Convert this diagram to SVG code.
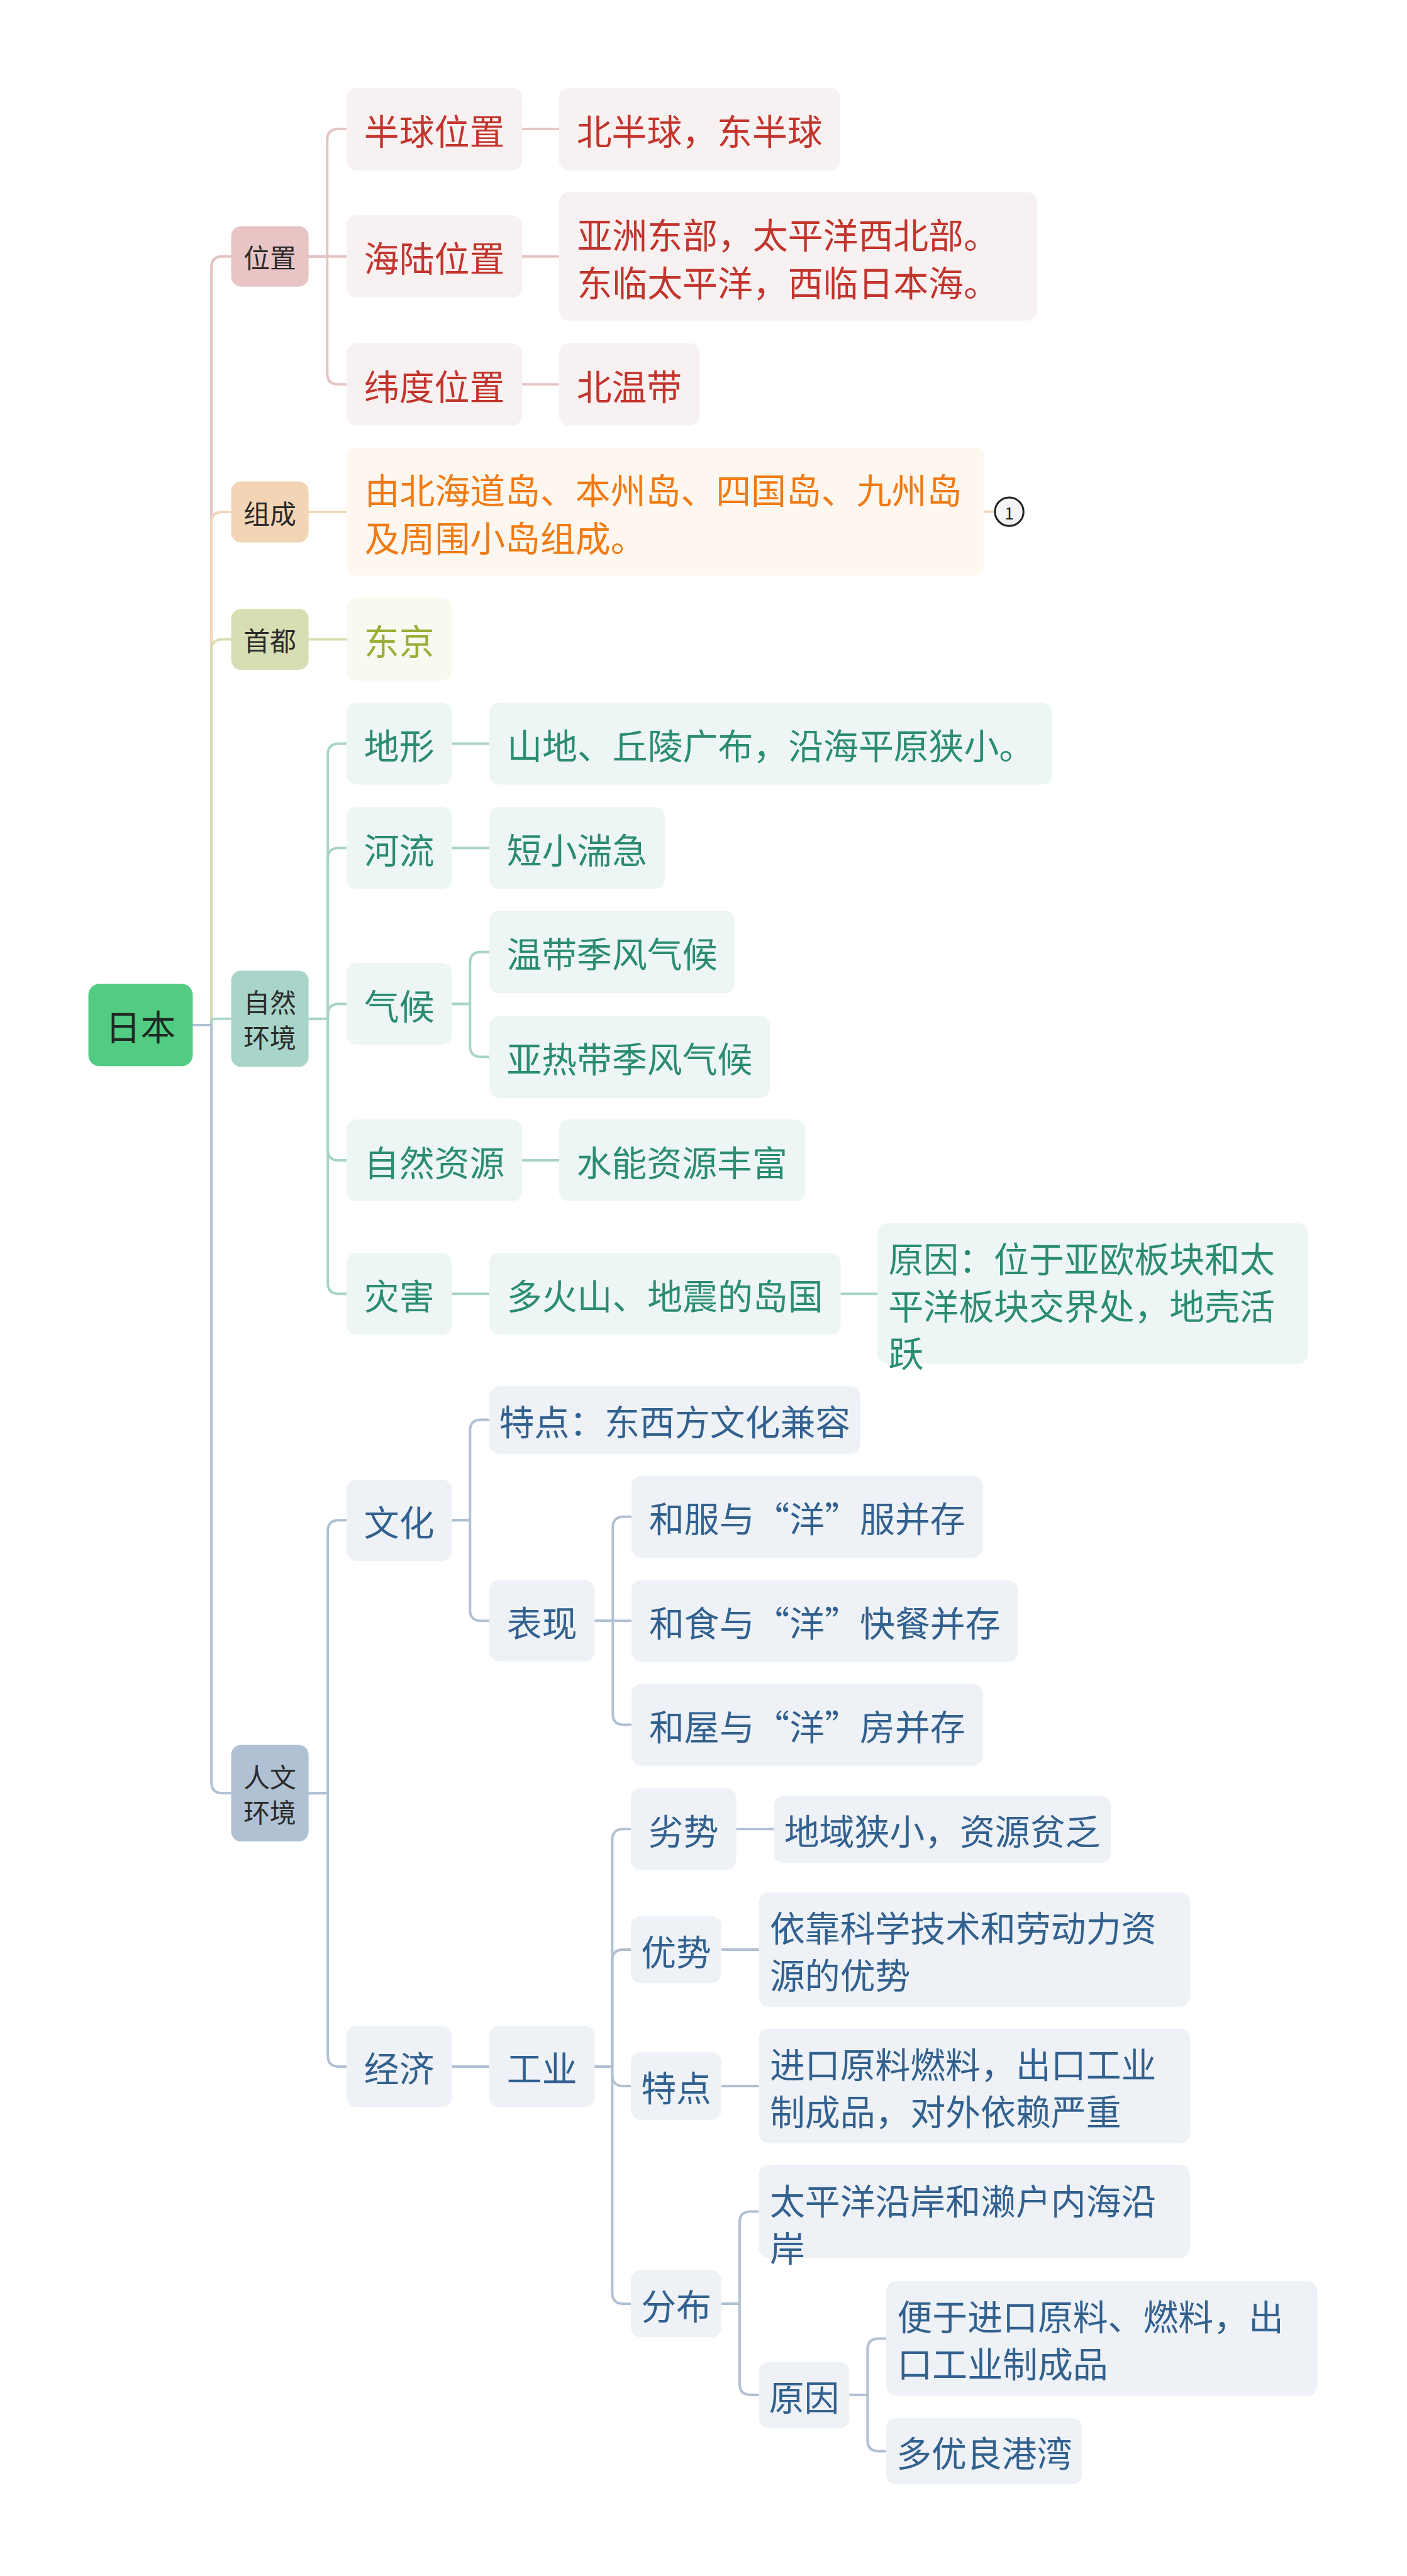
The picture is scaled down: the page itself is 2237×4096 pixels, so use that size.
<svg xmlns="http://www.w3.org/2000/svg" width="2237" height="4096" viewBox="0 0 2237 4096">
<style>
text{font-family:"Noto Sans CJK SC","Noto Sans","Liberation Sans",sans-serif;dominant-baseline:central;}
.big{font-size:64px}
.mid{font-size:48px;fill:#2b2b2b}
.m{text-anchor:middle}
.ln{fill:none;stroke-width:4.5;stroke-linecap:round;stroke-linejoin:round}
.lw{stroke:#E5C3C3}.lz{stroke:#F1D6B7}.ls{stroke:#D7DDB0}.ln2{stroke:#A8D4C8}.lr{stroke:#AFC0D2}
.bw{fill:#F8F1F1}.bz{fill:#FDF7EF}.bs{fill:#F8F9F0}.bn{fill:#EDF6F4}.br{fill:#EEF2F6}
.tw{fill:#C2342C}.tz{fill:#F07A13}.ts{fill:#98AE36}.tn{fill:#2B8C72}.tr{fill:#33618F}
</style>
<rect width="2237" height="4096" fill="#FFFFFF"/>
<g transform="scale(0.873)">
<g id="connectors">
<path class="ln lw" d="M351 1867 H385 V487 Q385 467 405 467 H421"/>
<path class="ln lz" d="M351 1867 H385 V952.5 Q385 932.5 405 932.5 H421"/>
<path class="ln ls" d="M351 1867 H385 V1184.5 Q385 1164.5 405 1164.5 H421"/>
<path class="ln ln2" d="M351 1867 H385 V1861 Q385 1855.5 391 1855.5 H421"/>
<path class="ln lr" d="M351 1867 H385 V3246 Q385 3266 405 3266 H421"/>
<path class="ln lw" d="M562 467 H596 V255 Q596 235 616 235 H631"/>
<path class="ln lw" d="M562 467 H631"/>
<path class="ln lw" d="M562 467 H596 V680 Q596 700 616 700 H631"/>
<path class="ln lw" d="M951 235 H1018"/>
<path class="ln lw" d="M951 467 H1018"/>
<path class="ln lw" d="M951 700 H1018"/>
<path class="ln lz" d="M562 932.5 H631"/>
<path class="ln lz" d="M1792 932 H1812"/>
<path class="ln ls" d="M562 1164.5 H631"/>
<path class="ln ln2" d="M562 1855.5 H597 V1374.5 Q597 1354.5 617 1354.5 H631"/>
<path class="ln ln2" d="M562 1855.5 H597 V1564.5 Q597 1544.5 617 1544.5 H631"/>
<path class="ln ln2" d="M562 1855.5 H597 V1848.5 Q597 1828.5 617 1828.5 H631"/>
<path class="ln ln2" d="M562 1855.5 H597 V2093.5 Q597 2113.5 617 2113.5 H631"/>
<path class="ln ln2" d="M562 1855.5 H597 V2336.5 Q597 2356.5 617 2356.5 H631"/>
<path class="ln ln2" d="M823 1354.5 H891"/>
<path class="ln ln2" d="M823 1544.5 H891"/>
<path class="ln ln2" d="M823 1828.5 H856 V1754 Q856 1734 876 1734 H891"/>
<path class="ln ln2" d="M823 1828.5 H856 V1905 Q856 1925 876 1925 H891"/>
<path class="ln ln2" d="M951 2113.5 H1018"/>
<path class="ln ln2" d="M823 2356.5 H891"/>
<path class="ln ln2" d="M1531 2356.5 H1598"/>
<path class="ln lr" d="M562 3266 H597 V2789 Q597 2769 617 2769 H631"/>
<path class="ln lr" d="M562 3266 H597 V3744 Q597 3764 617 3764 H631"/>
<path class="ln lr" d="M823 2769 H856 V2606 Q856 2586 876 2586 H891"/>
<path class="ln lr" d="M823 2769 H856 V2932 Q856 2952 876 2952 H891"/>
<path class="ln lr" d="M1083 2952 H1116 V2782.5 Q1116 2762.5 1136 2762.5 H1150"/>
<path class="ln lr" d="M1083 2952 H1150"/>
<path class="ln lr" d="M1083 2952 H1116 V3121.5 Q1116 3141.5 1136 3141.5 H1150"/>
<path class="ln lr" d="M823 3764 H891"/>
<path class="ln lr" d="M1083 3764 H1115 V3351.5 Q1115 3331.5 1135 3331.5 H1149"/>
<path class="ln lr" d="M1083 3764 H1115 V3571 Q1115 3551 1135 3551 H1149"/>
<path class="ln lr" d="M1083 3764 H1115 V3779.5 Q1115 3799.5 1135 3799.5 H1149"/>
<path class="ln lr" d="M1083 3764 H1115 V4176 Q1115 4196 1135 4196 H1149"/>
<path class="ln lr" d="M1341 3331.5 H1409"/>
<path class="ln lr" d="M1314 3551 H1382"/>
<path class="ln lr" d="M1314 3799.5 H1382"/>
<path class="ln lr" d="M1314 4196 H1347 V4048 Q1347 4028 1367 4028 H1382"/>
<path class="ln lr" d="M1314 4196 H1347 V4342 Q1347 4362 1367 4362 H1382"/>
<path class="ln lr" d="M1547 4362 H1580 V4279.5 Q1580 4259.5 1600 4259.5 H1614"/>
<path class="ln lr" d="M1547 4362 H1580 V4444.5 Q1580 4464.5 1600 4464.5 H1614"/>
</g>

<g id="n-root"><rect x="161" y="1792" width="190" height="150" rx="20" fill="#52CC83"/><text class="big m" x="256" y="1867" fill="#1f2a24">日本</text></g>

<g id="n-weizhi"><rect x="421" y="412" width="141" height="110" rx="18" fill="#E8C4C4"/><text class="mid m" x="491.5" y="467">位置</text></g>
<g id="n-zucheng"><rect x="421" y="877" width="141" height="111" rx="18" fill="#F3D5B5"/><text class="mid m" x="491.5" y="932.5">组成</text></g>
<g id="n-shoudu"><rect x="421" y="1109" width="141" height="111" rx="18" fill="#D8DEB3"/><text class="mid m" x="491.5" y="1164.5">首都</text></g>
<g id="n-ziran"><rect x="421" y="1768" width="141" height="175" rx="18" fill="#A9D4C9"/><text class="mid m" x="491.5" y="1823">自然</text><text class="mid m" x="491.5" y="1887">环境</text></g>
<g id="n-renwen"><rect x="421" y="3178" width="141" height="176" rx="18" fill="#B0C1D3"/><text class="mid m" x="491.5" y="3234">人文</text><text class="mid m" x="491.5" y="3298">环境</text></g>

<g id="n-banqiu"><rect class="bw" x="631" y="160" width="320" height="150" rx="18"/><text class="big m tw" x="791" y="235">半球位置</text></g>
<g id="n-bbq"><rect class="bw" x="1018" y="160" width="512" height="150" rx="18"/><text class="big m tw" x="1274" y="235">北半球，东半球</text></g>
<g id="n-hailu"><rect class="bw" x="631" y="392" width="320" height="150" rx="18"/><text class="big m tw" x="791" y="467">海陆位置</text></g>
<g id="n-yazhou"><rect class="bw" x="1018" y="350" width="871" height="234" rx="18"/><text class="big tw" x="1051" y="424">亚洲东部，太平洋西北部。</text><text class="big tw" x="1051" y="511">东临太平洋，西临日本海。</text></g>
<g id="n-weidu"><rect class="bw" x="631" y="625" width="320" height="150" rx="18"/><text class="big m tw" x="791" y="700">纬度位置</text></g>
<g id="n-bwd"><rect class="bw" x="1018" y="625" width="256" height="150" rx="18"/><text class="big m tw" x="1146" y="700">北温带</text></g>

<g id="n-zc1"><rect class="bz" x="631" y="815" width="1161" height="234" rx="18"/><text class="big tz" x="664" y="890">由北海道岛、本州岛、四国岛、九州岛</text><text class="big tz" x="664" y="977">及周围小岛组成。</text></g>
<g id="n-note"><circle cx="1838" cy="932" r="26" fill="#F4F4F4" stroke="#222222" stroke-width="3.5"/><text x="1838" y="933" font-size="30" text-anchor="middle" fill="#222222">1</text></g>

<g id="n-dongjing"><rect class="bs" x="631" y="1089" width="192" height="151" rx="18"/><text class="big m ts" x="727" y="1164.5">东京</text></g>

<g id="n-dixing"><rect class="bn" x="631" y="1280" width="192" height="149" rx="18"/><text class="big m tn" x="727" y="1354.5">地形</text></g>
<g id="n-shandi"><rect class="bn" x="891" y="1280" width="1025" height="149" rx="18"/><text class="big m tn" x="1403.5" y="1354.5">山地、丘陵广布，沿海平原狭小。</text></g>
<g id="n-heliu"><rect class="bn" x="631" y="1470" width="192" height="149" rx="18"/><text class="big m tn" x="727" y="1544.5">河流</text></g>
<g id="n-duanxiao"><rect class="bn" x="891" y="1470" width="320" height="149" rx="18"/><text class="big m tn" x="1051" y="1544.5">短小湍急</text></g>
<g id="n-qihou"><rect class="bn" x="631" y="1754" width="192" height="149" rx="18"/><text class="big m tn" x="727" y="1828.5">气候</text></g>
<g id="n-wendai"><rect class="bn" x="891" y="1659" width="447" height="150" rx="18"/><text class="big m tn" x="1114.5" y="1734">温带季风气候</text></g>
<g id="n-yare"><rect class="bn" x="891" y="1850" width="511" height="150" rx="18"/><text class="big m tn" x="1146.5" y="1925">亚热带季风气候</text></g>
<g id="n-ziyuan"><rect class="bn" x="631" y="2039" width="320" height="149" rx="18"/><text class="big m tn" x="791" y="2113.5">自然资源</text></g>
<g id="n-shuineng"><rect class="bn" x="1018" y="2039" width="448" height="149" rx="18"/><text class="big m tn" x="1242" y="2113.5">水能资源丰富</text></g>
<g id="n-zaihai"><rect class="bn" x="631" y="2282" width="192" height="149" rx="18"/><text class="big m tn" x="727" y="2356.5">灾害</text></g>
<g id="n-duohuo"><rect class="bn" x="891" y="2282" width="640" height="149" rx="18"/><text class="big m tn" x="1211" y="2356.5">多火山、地震的岛国</text></g>
<g id="n-yuanyin1"><rect class="bn" x="1598" y="2228" width="784" height="256" rx="18"/><text class="big tn" x="1618" y="2289">原因：位于亚欧板块和太</text><text class="big tn" x="1618" y="2375">平洋板块交界处，地壳活</text><text class="big tn" x="1618" y="2461">跃</text></g>

<g id="n-wenhua"><rect class="br" x="631" y="2695" width="192" height="148" rx="18"/><text class="big m tr" x="727" y="2769">文化</text></g>
<g id="n-tedian1"><rect class="br" x="891" y="2525" width="676" height="123" rx="18"/><text class="big m tr" x="1229" y="2586">特点：东西方文化兼容</text></g>
<g id="n-biaoxian"><rect class="br" x="891" y="2878" width="192" height="148" rx="18"/><text class="big m tr" x="987" y="2952">表现</text></g>
<g id="n-hefu"><rect class="br" x="1150" y="2688" width="640" height="149" rx="18"/><text class="big m tr" x="1470" y="2762.5">和服与“洋”服并存</text></g>
<g id="n-heshi"><rect class="br" x="1150" y="2878" width="704" height="149" rx="18"/><text class="big m tr" x="1502" y="2952.5">和食与“洋”快餐并存</text></g>
<g id="n-hewu"><rect class="br" x="1150" y="3067" width="640" height="149" rx="18"/><text class="big m tr" x="1470" y="3141.5">和屋与“洋”房并存</text></g>
<g id="n-jingji"><rect class="br" x="631" y="3690" width="192" height="148" rx="18"/><text class="big m tr" x="727" y="3764">经济</text></g>
<g id="n-gongye"><rect class="br" x="891" y="3690" width="192" height="148" rx="18"/><text class="big m tr" x="987" y="3764">工业</text></g>
<g id="n-lieshi"><rect class="br" x="1149" y="3257" width="192" height="149" rx="18"/><text class="big m tr" x="1245" y="3331.5">劣势</text></g>
<g id="n-diyu"><rect class="br" x="1409" y="3271" width="614" height="122" rx="18"/><text class="big m tr" x="1716" y="3332">地域狭小，资源贫乏</text></g>
<g id="n-youshi"><rect class="br" x="1149" y="3490" width="165" height="122" rx="18"/><text class="big m tr" x="1231.5" y="3551">优势</text></g>
<g id="n-yikao"><rect class="br" x="1382" y="3447" width="785" height="208" rx="18"/><text class="big tr" x="1402" y="3508">依靠科学技术和劳动力资</text><text class="big tr" x="1402" y="3594">源的优势</text></g>
<g id="n-tedian2"><rect class="br" x="1149" y="3738" width="165" height="123" rx="18"/><text class="big m tr" x="1231.5" y="3799.5">特点</text></g>
<g id="n-jinkou"><rect class="br" x="1382" y="3695" width="785" height="209" rx="18"/><text class="big tr" x="1402" y="3757">进口原料燃料，出口工业</text><text class="big tr" x="1402" y="3843">制成品，对外依赖严重</text></g>
<g id="n-fenbu"><rect class="br" x="1149" y="4135" width="165" height="122" rx="18"/><text class="big m tr" x="1231.5" y="4196">分布</text></g>
<g id="n-taipingyang"><rect class="br" x="1382" y="3943" width="785" height="170" rx="18"/><text class="big tr" x="1402" y="4005">太平洋沿岸和濑户内海沿</text><text class="big tr" x="1402" y="4091">岸</text></g>
<g id="n-yuanyin2"><rect class="br" x="1382" y="4302" width="165" height="121" rx="18"/><text class="big m tr" x="1464.5" y="4362">原因</text></g>
<g id="n-bianyu"><rect class="br" x="1614" y="4155" width="785" height="209" rx="18"/><text class="big tr" x="1634" y="4216">便于进口原料、燃料，出</text><text class="big tr" x="1634" y="4302">口工业制成品</text></g>
<g id="n-gangwan"><rect class="br" x="1614" y="4404" width="357" height="121" rx="18"/><text class="big m tr" x="1792.5" y="4464.5">多优良港湾</text></g>
</g>
</svg>
